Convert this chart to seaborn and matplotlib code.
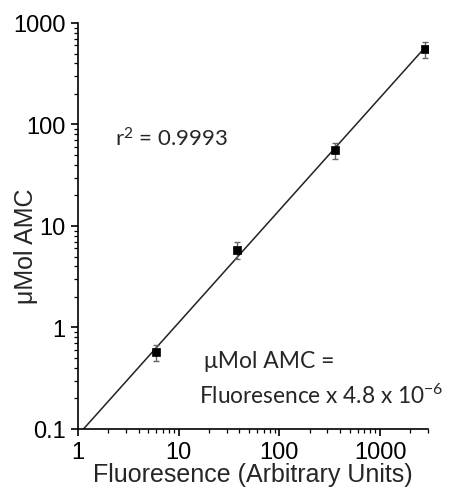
import numpy as np
import pandas as pd
import matplotlib
matplotlib.use("Agg")
import matplotlib.pyplot as plt
import seaborn as sns
from matplotlib.ticker import FixedLocator, FixedFormatter, LogLocator, NullFormatter

# Calibration standards: fluorescence reading vs. AMC amount
fluorescence = [6.0, 38.0, 357.0, 2770.0]
amc_umol = [0.57, 5.8, 56.0, 556.0]
amc_err = [0.10, 1.1, 10.0, 100.0]

x_ticks = [1, 10, 100, 1000]
x_tick_labels = ["1", "10", "100", "1000"]
y_ticks = [0.1, 1, 10, 100, 1000]
y_tick_labels = ["0.1", "1", "10", "100", "1000"]

r_squared = "0.9993"
slope_text = r"Fluoresence x 4.8 x 10$^{-6}$"

sns.set_style("ticks")
plt.rcParams["font.family"] = ["Liberation Sans", "DejaVu Sans"]
plt.rcParams["mathtext.fontset"] = "custom"
plt.rcParams["mathtext.rm"] = "Lato"
plt.rcParams["mathtext.it"] = "Lato:italic"
plt.rcParams["mathtext.bf"] = "Lato:bold"

df = pd.DataFrame({"x": fluorescence, "y": amc_umol, "err": amc_err})

# power-law fit in log-log space
slope, intercept = np.polyfit(np.log10(df["x"]), np.log10(df["y"]), 1)
fit_x = np.geomspace(1.0, df["x"].max(), 60)
fit = pd.DataFrame({"x": fit_x, "y": 10 ** (intercept + slope * np.log10(fit_x))})

fig = plt.figure(figsize=(4.53, 4.89), dpi=100)
ax = fig.add_axes([0.172, 0.1207, 0.773, 0.8303])

sns.lineplot(data=fit, x="x", y="y", ax=ax, color="#222222", linewidth=1.1, zorder=2)
ax.errorbar(df["x"], df["y"], yerr=df["err"], fmt="none", ecolor="#666666",
            elinewidth=1.0, capsize=2.5, capthick=1.0, zorder=3)
sns.scatterplot(data=df, x="x", y="y", ax=ax, marker="s", s=34, color="black",
                edgecolor="black", linewidth=0.5, zorder=4)

ax.set_xscale("log")
ax.set_yscale("log")
ax.set_xlim(1, 3000)
ax.set_ylim(0.1, 1000)

ax.xaxis.set_major_locator(FixedLocator(x_ticks))
ax.xaxis.set_major_formatter(FixedFormatter(x_tick_labels))
ax.yaxis.set_major_locator(FixedLocator(y_ticks))
ax.yaxis.set_major_formatter(FixedFormatter(y_tick_labels))
ax.xaxis.set_minor_locator(LogLocator(base=10, subs=np.arange(2, 10), numticks=20))
ax.yaxis.set_minor_locator(LogLocator(base=10, subs=np.arange(2, 10), numticks=20))
ax.xaxis.set_minor_formatter(NullFormatter())
ax.yaxis.set_minor_formatter(NullFormatter())

sns.despine(ax=ax)
for side in ("left", "bottom"):
    ax.spines[side].set_linewidth(1.2)
    ax.spines[side].set_color("black")

ax.tick_params(which="major", direction="out", length=5, width=1.2,
               labelsize=17, pad=4, colors="black")
ax.tick_params(which="minor", direction="out", length=3, width=0.9, colors="black")

ax.set_xlabel("Fluoresence (Arbitrary Units)", fontsize=18)
ax.xaxis.set_label_coords(0.5, -0.128)
ax.xaxis.label.set_va("baseline")

ax.set_ylabel("\u03bcMol AMC", fontsize=18)
ax.yaxis.set_label_coords(-0.129, 0.453)
ax.yaxis.label.set_va("baseline")

note_font = ["Lato", "DejaVu Sans"]
ax.text(0.106, 0.697, r"r$^2$ = " + r_squared, transform=ax.transAxes,
        fontsize=16, family=note_font, ha="left", va="baseline")
ax.text(0.36, 0.153, "\u03bcMol AMC =", transform=ax.transAxes,
        fontsize=16.5, family=note_font, ha="left", va="baseline")
ax.text(0.345, 0.064, slope_text, transform=ax.transAxes,
        fontsize=16.3, family=note_font, ha="left", va="baseline")

fig.savefig("out.png", dpi=100)
